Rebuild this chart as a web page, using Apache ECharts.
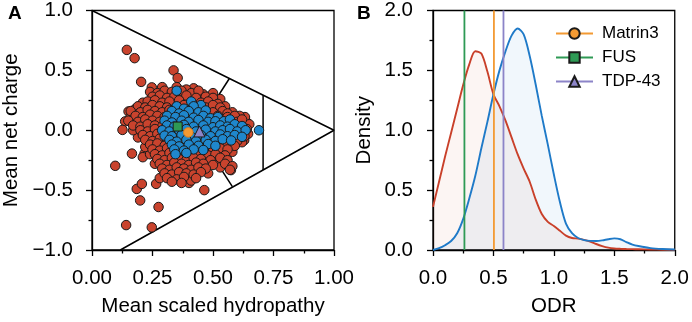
<!DOCTYPE html>
<html>
<head>
<meta charset="utf-8">
<script src="https://cdn.jsdelivr.net/npm/echarts@6/dist/echarts.min.js"></script>
<style>
  html, body { margin: 0; padding: 0; background: #fff; }
  #chart { width: 692px; height: 322px; }
</style>
</head>
<body>
<div id="chart"></div>
<script>
var FONT = "'Liberation Sans', Arial, sans-serif";

// panel A: sequences, mean scaled hydropathy vs mean net charge
var redPoints = [
    [0.144, 0.671], [0.176, 0.602], [0.337, 0.50], [0.354, 0.437], [0.203, 0.404], [0.247, 0.358],
    [0.151, 0.157], [0.137, 0.074], [0.126, 0.003], [0.165, -0.195], [0.217, -0.195], [0.21, -0.225],
    [0.096, -0.297], [0.185, -0.49], [0.206, -0.448], [0.199, -0.586], [0.275, -0.641], [0.141, -0.792],
    [0.247, -0.811], [0.464, -0.50], [0.401, -0.44], [0.265, -0.448], [0.639, 0.067], [0.632, 0.11],
    [0.629, -0.083], [0.574, -0.333], [0.529, -0.173],
    [0.42, 0.35], [0.35, 0.36], [0.24, 0.32], [0.46, 0.30], [0.53, 0.26], [0.55, 0.20], [0.58, 0.15],
    [0.61, 0.12], [0.65, 0.05], [0.645, -0.03], [0.62, -0.10], [0.58, -0.18], [0.52, -0.27], [0.53, -0.31],
    [0.48, -0.36], [0.26, -0.28], [0.24, -0.20], [0.22, -0.14], [0.19, -0.06], [0.17, 0.00], [0.16, 0.11],
    [0.18, 0.18], [0.21, 0.23], [0.28, -0.40], [0.41, -0.42], [0.29, 0.36], [0.39, 0.34], [0.50, 0.31],
    [0.27, 0.31], [0.30, 0.33], [0.33, 0.32], [0.37, 0.33], [0.41, 0.31], [0.44, 0.33],
    [0.25, 0.28], [0.28, 0.29], [0.31, 0.27], [0.34, 0.28], [0.39, 0.29], [0.43, 0.27], [0.47, 0.28], [0.50, 0.27],
    [0.23, 0.24], [0.26, 0.25], [0.29, 0.23], [0.32, 0.24], [0.36, 0.25], [0.45, 0.23], [0.48, 0.24], [0.52, 0.22],
    [0.19, 0.20], [0.22, 0.19], [0.25, 0.21], [0.28, 0.20], [0.31, 0.19], [0.38, 0.21], [0.47, 0.19], [0.50, 0.21], [0.53, 0.19],
    [0.16, 0.16], [0.20, 0.15], [0.23, 0.17], [0.26, 0.16], [0.29, 0.15], [0.32, 0.17], [0.50, 0.15], [0.54, 0.16], [0.56, 0.14],
    [0.18, 0.12], [0.21, 0.11], [0.24, 0.13], [0.27, 0.12], [0.30, 0.11], [0.52, 0.12], [0.56, 0.11], [0.59, 0.12],
    [0.15, 0.08], [0.19, 0.07], [0.22, 0.09], [0.25, 0.08], [0.28, 0.07], [0.57, 0.08], [0.60, 0.07], [0.62, 0.09],
    [0.17, 0.04], [0.20, 0.03], [0.23, 0.05], [0.26, 0.04], [0.29, 0.03], [0.59, 0.04], [0.62, 0.03],
    [0.20, 0.00], [0.23, -0.01], [0.26, 0.01], [0.61, 0.00], [0.64, 0.01],
    [0.21, -0.04], [0.24, -0.05], [0.27, -0.03], [0.60, -0.04], [0.63, -0.05],
    [0.22, -0.08], [0.25, -0.09], [0.28, -0.07], [0.31, -0.08], [0.57, -0.08], [0.60, -0.09],
    [0.24, -0.12], [0.27, -0.11], [0.30, -0.13], [0.53, -0.12], [0.56, -0.11], [0.59, -0.13],
    [0.25, -0.16], [0.28, -0.17], [0.31, -0.15], [0.46, -0.16], [0.50, -0.17], [0.53, -0.15], [0.56, -0.16],
    [0.26, -0.20], [0.29, -0.21], [0.32, -0.19], [0.36, -0.21], [0.40, -0.20], [0.44, -0.19], [0.48, -0.21], [0.51, -0.20], [0.55, -0.21],
    [0.27, -0.24], [0.30, -0.25], [0.33, -0.23], [0.36, -0.24], [0.39, -0.25], [0.42, -0.23], [0.45, -0.24], [0.49, -0.25], [0.53, -0.23], [0.56, -0.25],
    [0.28, -0.28], [0.31, -0.29], [0.34, -0.27], [0.37, -0.28], [0.40, -0.29], [0.43, -0.27], [0.46, -0.28], [0.50, -0.29], [0.55, -0.28], [0.58, -0.30],
    [0.29, -0.32], [0.32, -0.33], [0.35, -0.31], [0.38, -0.32], [0.41, -0.33], [0.44, -0.31], [0.47, -0.32], [0.57, -0.33],
    [0.30, -0.36], [0.33, -0.37], [0.36, -0.35], [0.39, -0.36], [0.42, -0.37], [0.45, -0.35],
    [0.31, -0.40], [0.35, -0.41], [0.38, -0.39], [0.43, -0.40],
    [0.33, -0.43], [0.37, -0.44]
];

var bluePoints = [
    [0.35, 0.33], [0.41, 0.24], [0.45, 0.21],
    [0.35, 0.20], [0.38, 0.18], [0.42, 0.20],
    [0.33, 0.16], [0.36, 0.14], [0.40, 0.16], [0.44, 0.15], [0.47, 0.165],
    [0.31, 0.12], [0.345, 0.11], [0.38, 0.125], [0.42, 0.105], [0.46, 0.12], [0.49, 0.10], [0.52, 0.11],
    [0.30, 0.08], [0.33, 0.065], [0.37, 0.08], [0.40, 0.07], [0.44, 0.085], [0.48, 0.07], [0.51, 0.075], [0.545, 0.075], [0.57, 0.09],
    [0.31, 0.04], [0.34, 0.03], [0.38, 0.045], [0.42, 0.03], [0.46, 0.04], [0.50, 0.025], [0.53, 0.04], [0.56, 0.03], [0.59, 0.05], [0.62, 0.035],
    [0.29, 0.00], [0.32, -0.01], [0.36, 0.00], [0.39, 0.01], [0.43, -0.01], [0.47, 0.005], [0.51, -0.01], [0.54, 0.00], [0.57, 0.01], [0.60, -0.01], [0.635, 0.00],
    [0.69, 0.00],
    [0.30, -0.045], [0.33, -0.05], [0.37, -0.04], [0.41, -0.055], [0.45, -0.04], [0.49, -0.05], [0.53, -0.035], [0.56, -0.05], [0.59, -0.04], [0.62, -0.055],
    [0.32, -0.08], [0.35, -0.095], [0.39, -0.08], [0.43, -0.09], [0.47, -0.08], [0.51, -0.09], [0.54, -0.075], [0.575, -0.085],
    [0.33, -0.12], [0.36, -0.135], [0.40, -0.12], [0.44, -0.13], [0.48, -0.115], [0.51, -0.13],
    [0.34, -0.16], [0.38, -0.17], [0.42, -0.16], [0.46, -0.165],
    [0.345, -0.20], [0.39, -0.19]
];

var fusPoint = [[0.354, 0.031]];
var matrinPoint = [[0.398, -0.018]];
var tdpPoint = [[0.444, -0.01]];

// boundary lines of the diagram
var outerLine = [[0, 1], [1, 0], [0.117, -1]];
var upperInner = [[0.567, 0.43], [0.43, 0]];
var lowerInner = [[0.58, -0.47], [0.43, 0]];
var verticalInner = [[0.707, 0.293], [0.707, -0.332]];

// panel B: ODR densities
var odrX = [0, 0.05, 0.1, 0.15, 0.2, 0.25, 0.3, 0.35, 0.4, 0.45, 0.5, 0.55, 0.6, 0.65, 0.7, 0.75, 0.8, 0.85, 0.9, 0.95,
    1.0, 1.05, 1.1, 1.15, 1.2, 1.25, 1.3, 1.35, 1.4, 1.45, 1.5, 1.55, 1.6, 1.65, 1.7, 1.8, 1.9, 2.0];
var redDensity = [0.36, 0.57, 0.78, 0.98, 1.18, 1.38, 1.55, 1.66, 1.64, 1.49, 1.30, 1.20, 1.08, 0.94, 0.80, 0.68, 0.57, 0.42, 0.30, 0.235,
    0.20, 0.16, 0.12, 0.10, 0.095, 0.085, 0.07, 0.05, 0.033, 0.02, 0.013, 0.01, 0.008, 0.007, 0.006, 0.004, 0.002, 0.001];
var blueDensity = [0, 0.015, 0.04, 0.075, 0.14, 0.26, 0.43, 0.62, 0.85, 1.07, 1.30, 1.50, 1.66, 1.79, 1.85, 1.80, 1.62, 1.38, 1.12, 0.88,
    0.63, 0.40, 0.22, 0.14, 0.10, 0.083, 0.076, 0.075, 0.08, 0.09, 0.097, 0.09, 0.066, 0.045, 0.033, 0.016, 0.008, 0.004];

var proteinNames = ['Matrin3', 'FUS', 'TDP-43'];
var proteinOdr = [0.504, 0.26, 0.583];
var proteinColors = ['#f39a33', '#2e9a55', '#8c84c8'];
var proteinSymbols = ['circle', 'rect', 'triangle'];

function pairs(xs, ys) {
    var out = [];
    for (var i = 0; i < xs.length; i++) {
        out.push([xs[i], ys[i]]);
    }
    return out;
}

function fmtSigned(v, digits) {
    var s = Math.abs(v).toFixed(digits);
    return v < 0 ? '\u2212' + s : s;
}

function segment(data, xi, yi) {
    return {
        type: 'line',
        xAxisIndex: xi,
        yAxisIndex: yi,
        data: data,
        symbol: 'none',
        silent: true,
        z: 1,
        lineStyle: { color: '#000', width: 1.5 }
    };
}

var axisCommon = {
    axisLine: { onZero: false, lineStyle: { color: '#000', width: 1.3 } },
    axisTick: { inside: false, length: 6, lineStyle: { color: '#000', width: 1.3 } },
    minorTick: { show: true, splitNumber: 2, length: 3.5, lineStyle: { color: '#000', width: 1.3 } },
    splitLine: { show: false },
    nameTextStyle: { fontFamily: FONT, fontSize: 20.5, color: '#000' }
};

function makeAxis(extra) {
    var a = JSON.parse(JSON.stringify(axisCommon));
    for (var k in extra) a[k] = extra[k];
    return a;
}

var series = [
    segment(outerLine, 0, 0),
    segment(upperInner, 0, 0),
    segment(lowerInner, 0, 0),
    segment(verticalInner, 0, 0),
    {
        type: 'scatter', xAxisIndex: 0, yAxisIndex: 0, data: redPoints, symbolSize: 9.5, z: 2,
        itemStyle: { color: '#c9432d', borderColor: '#1a1a1a', borderWidth: 1, opacity: 1 }
    },
    {
        type: 'scatter', xAxisIndex: 0, yAxisIndex: 0, data: bluePoints, symbolSize: 9.5, z: 3,
        itemStyle: { color: '#1f87cc', borderColor: '#1a1a1a', borderWidth: 1, opacity: 1 }
    },
    {
        type: 'scatter', xAxisIndex: 0, yAxisIndex: 0, data: fusPoint, symbol: 'rect', symbolSize: 9, z: 4,
        itemStyle: { color: proteinColors[1], borderColor: '#1a1a1a', borderWidth: 1, opacity: 1 }
    },
    {
        type: 'scatter', xAxisIndex: 0, yAxisIndex: 0, data: matrinPoint, symbol: 'circle', symbolSize: 9.5, z: 4,
        itemStyle: { color: proteinColors[0], borderColor: '#e07f1c', borderWidth: 1, opacity: 1 }
    },
    {
        type: 'scatter', xAxisIndex: 0, yAxisIndex: 0, data: tdpPoint, symbol: 'triangle', symbolSize: 11, z: 4,
        itemStyle: { color: proteinColors[2], borderColor: '#1a1a1a', borderWidth: 1, opacity: 1 }
    },
    {
        type: 'line', xAxisIndex: 1, yAxisIndex: 1, data: pairs(odrX, redDensity), smooth: 0.3,
        symbol: 'none', z: 2, silent: true,
        lineStyle: { color: '#c9402a', width: 1.9 },
        areaStyle: { color: 'rgba(201,64,42,0.08)' }
    },
    {
        type: 'line', xAxisIndex: 1, yAxisIndex: 1, data: pairs(odrX, blueDensity), smooth: 0.3,
        symbol: 'none', z: 2, silent: true,
        lineStyle: { color: '#1f7ac8', width: 1.9 },
        areaStyle: { color: 'rgba(31,122,200,0.09)' }
    }
];

for (var i = 0; i < proteinNames.length; i++) {
    series.push({
        name: proteinNames[i],
        type: 'line', xAxisIndex: 1, yAxisIndex: 1,
        data: [[proteinOdr[i], 0], [proteinOdr[i], 2]],
        symbol: proteinSymbols[i], showSymbol: false, z: 3, silent: true,
        lineStyle: { color: proteinColors[i], width: 1.8 },
        itemStyle: { color: proteinColors[i], borderColor: '#1a1a1a', borderWidth: 1 }
    });
}

var option = {
    animation: false,
    backgroundColor: '#fff',
    textStyle: { fontFamily: FONT },
    grid: [
        { left: 92, top: 9, width: 242, height: 243, show: true, borderColor: '#000', borderWidth: 1.3, backgroundColor: 'transparent' },
        { left: 433, top: 9, width: 243, height: 243, show: true, borderColor: '#000', borderWidth: 1.3, backgroundColor: 'transparent' }
    ],
    legend: {
        data: proteinNames,
        orient: 'vertical',
        left: 550,
        top: 20,
        itemWidth: 37,
        itemHeight: 13,
        itemGap: 7,
        textStyle: { fontFamily: FONT, fontSize: 17, color: '#000', padding: [0, 0, 0, 4] }
    },
    xAxis: [
        makeAxis({
            type: 'value', gridIndex: 0, min: 0, max: 1, interval: 0.25,
            name: 'Mean scaled hydropathy', nameLocation: 'middle', nameGap: 46,
            axisLabel: { margin: 18, fontFamily: FONT, fontSize: 20.5, color: '#000', formatter: function (v) { return v.toFixed(2); } }
        }),
        makeAxis({
            type: 'value', gridIndex: 1, min: 0, max: 2, interval: 0.5,
            name: 'ODR', nameLocation: 'middle', nameGap: 46,
            axisLabel: { margin: 18, fontFamily: FONT, fontSize: 20.5, color: '#000', formatter: function (v) { return v.toFixed(1); } }
        })
    ],
    yAxis: [
        makeAxis({
            type: 'value', gridIndex: 0, min: -1, max: 1, interval: 0.5,
            name: 'Mean net charge', nameLocation: 'middle', nameGap: 70,
            axisLabel: { margin: 19, fontFamily: FONT, fontSize: 20.5, color: '#000', formatter: function (v) { return fmtSigned(v, 1); } }
        }),
        makeAxis({
            type: 'value', gridIndex: 1, min: 0, max: 2, interval: 0.5,
            name: 'Density', nameLocation: 'middle', nameGap: 58,
            axisLabel: { margin: 20, fontFamily: FONT, fontSize: 20.5, color: '#000', formatter: function (v) { return v.toFixed(1); } }
        })
    ],
    graphic: [
        { type: 'text', left: 8, top: 4, style: { text: 'A', fontFamily: FONT, fontWeight: 'bold', fontSize: 19, fill: '#000' } },
        { type: 'text', left: 357, top: 4, style: { text: 'B', fontFamily: FONT, fontWeight: 'bold', fontSize: 19, fill: '#000' } }
    ],
    series: series
};

var chart = echarts.init(document.getElementById('chart'));
chart.setOption(option);
</script>
</body>
</html>
